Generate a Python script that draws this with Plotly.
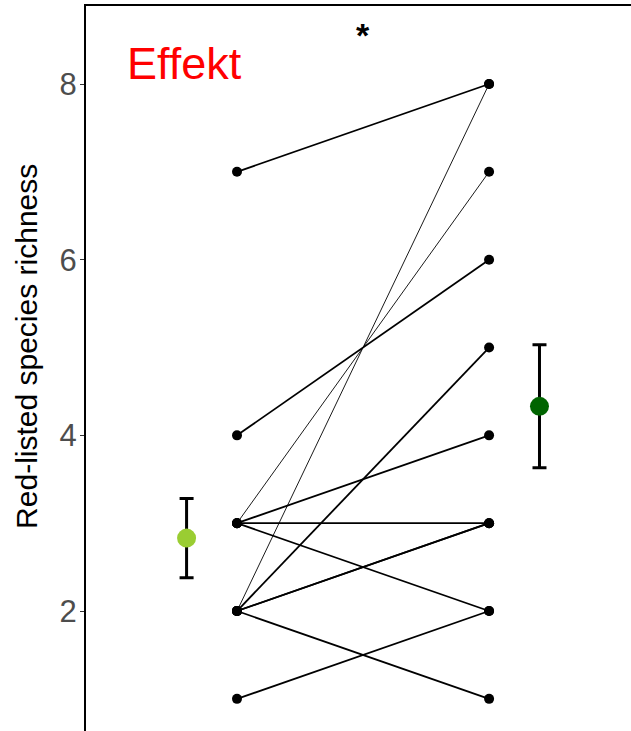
import plotly.graph_objects as go

# Paired observations (before -> after)
before = [7, 4, 3, 3, 3, 3, 2, 2, 2, 2, 2, 1]
after = [8, 6, 7, 4, 3, 2, 8, 5, 3, 3, 1, 2]
line_widths = [1.8, 1.8, 0.9, 1.8, 1.8, 1.8, 0.9, 1.8, 1.8, 1.8, 1.8, 1.8]

group_x = [1, 2]
mean_x = [0.8, 2.2]
means = [2.83, 4.33]
se = [0.45, 0.70]
mean_colors = ["#9ACD32", "#006400"]

y_ticks = [2, 4, 6, 8]
y_title = "Red-listed species richness"
panel_label = "Effekt"
sig_label = "<b>*</b>"

FONT = "Liberation Sans, Arial, sans-serif"

fig = go.Figure()

for b, a, w in zip(before, after, line_widths):
    fig.add_trace(go.Scatter(
        x=group_x, y=[b, a], mode="lines",
        line=dict(color="black", width=w),
        showlegend=False, hoverinfo="skip"))

fig.add_trace(go.Scatter(
    x=[group_x[0]] * len(before) + [group_x[1]] * len(after),
    y=before + after, mode="markers",
    marker=dict(color="black", size=10),
    showlegend=False))

for mx, m, s, c in zip(mean_x, means, se, mean_colors):
    fig.add_trace(go.Scatter(
        x=[mx], y=[m], mode="markers",
        marker=dict(color=c, size=19),
        error_y=dict(type="data", array=[s], color="black", thickness=3, width=7),
        showlegend=False))

fig.update_layout(
    width=631, height=731,
    margin=dict(l=86, r=0, t=6, b=0),
    plot_bgcolor="white", paper_bgcolor="white",
    font=dict(family=FONT),
    xaxis=dict(range=[0.401, 2.563], showgrid=False, zeroline=False,
               showticklabels=False, ticks="", side="top",
               showline=True, linecolor="black", linewidth=2),
    yaxis=dict(range=[0.634, 8.888], tickvals=y_ticks, showgrid=False,
               zeroline=False, showline=True, linecolor="black", linewidth=2,
               ticks="outside", ticklen=4, tickcolor="#333333", tickwidth=1,
               ticklabelstandoff=-3,
               tickfont=dict(size=31, color="#4d4d4d", family=FONT)),
    annotations=[
        dict(text=panel_label, x=0.0716, y=0.92, xref="paper", yref="paper",
             xanchor="left", yanchor="middle", showarrow=False,
             font=dict(size=45, color="red", family=FONT)),
        dict(text=sig_label, x=1.5, y=0.96, xref="x", yref="paper",
             xanchor="center", yanchor="middle", showarrow=False,
             font=dict(size=34, color="black", family=FONT)),
        dict(text=y_title, x=-0.108, y=0.53, xref="paper", yref="paper",
             xanchor="center", yanchor="middle", textangle=-90, showarrow=False,
             font=dict(size=30, color="black", family=FONT)),
    ],
)

fig.write_html("out.html", config={"displayModeBar": False},
               post_script="document.body.style.margin='0px';")
